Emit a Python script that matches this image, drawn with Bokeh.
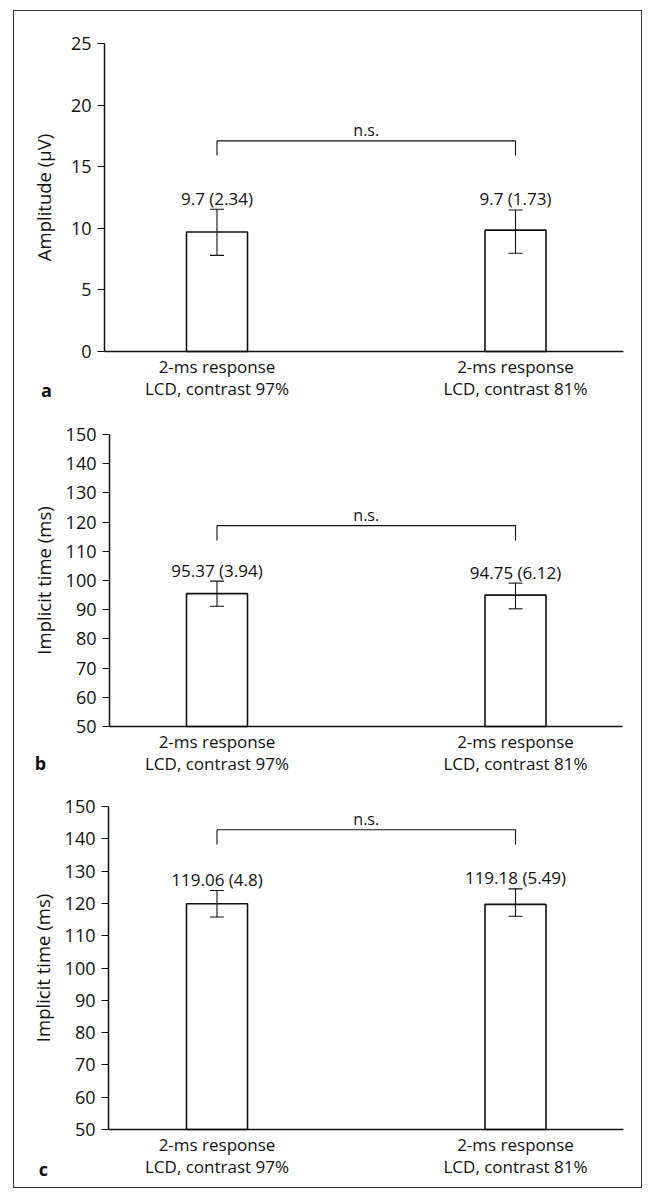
from bokeh.plotting import figure
from bokeh.models import Range1d, FixedTicker, Whisker, TeeHead, ColumnDataSource
from bokeh.layouts import column
from bokeh.embed import file_html
from bokeh.resources import INLINE
from bokeh.core.properties import value

# ---------------- data ----------------
categories = ["2-ms response\nLCD, contrast 97%", "2-ms response\nLCD, contrast 81%"]

amp_mean = [9.7, 9.85]
amp_upper = [11.55, 11.49]
amp_lower = [7.8, 7.97]
amp_text = ["9.7 (2.34)", "9.7 (1.73)"]

itb_mean = [95.5, 95.0]
itb_upper = [99.8, 99.1]
itb_lower = [91.2, 90.3]
itb_text = ["95.37 (3.94)", "94.75 (6.12)"]

itc_mean = [119.9, 119.7]
itc_upper = [124.0, 124.5]
itc_lower = [115.8, 116.0]
itc_text = ["119.06 (4.8)", "119.18 (5.49)"]

amp_ticks = [0, 5, 10, 15, 20, 25]
it_ticks = [50, 60, 70, 80, 90, 100, 110, 120, 130, 140, 150]

bracket_y = [17.1, 118.8, 142.8]
bracket_leg = [15.9, 113.7, 138.2]
sig_text = "n.s."
letters = ["a", "b", "c"]
ylabels = ["Amplitude (µV)", "Implicit time (ms)", "Implicit time (ms)"]

FONT = "Open Sans"
INK = "#111111"

# layout geometry (page pixels; Bokeh page has no body margin)
BOX_X, BOX_Y = 13, 10          # outer border position
CANVAS_X0, CANVAS_X1 = 14, 641
PPU = 298.5                    # px per category step
CENTER1 = 216.5                # page x of first bar centre
BAR_W = 61 / PPU


def make_panel(i, means, uppers, lowers, texts, yr, ticks,
               ax_l, ax_r, ft, fb, ct, cb, letter_xy, label_standoff):
    W = CANVAS_X1 - CANVAS_X0
    H = cb - ct
    ppy = (fb - ft) / (yr[1] - yr[0])

    def px2x(px):
        return (px - CENTER1) / PPU

    def py2y(py):
        return yr[0] + (fb - py) / ppy

    p = figure(width=W, height=H, output_backend="svg", toolbar_location=None,
               x_range=Range1d(px2x(CANVAS_X0), px2x(CANVAS_X1)),
               y_range=Range1d(py2y(cb), py2y(ct)), min_border=0)
    p.outline_line_color = None
    p.xgrid.visible = False
    p.ygrid.visible = False
    p.background_fill_color = "white"
    p.border_fill_color = "white"

    pos = list(range(len(categories)))
    src = ColumnDataSource(dict(x=pos, top=means, upper=uppers, lower=lowers, text=texts))

    p.vbar(x="x", top="top", bottom=yr[0], width=BAR_W, source=src,
           fill_color="white", line_color=INK, line_width=1.6)

    w = Whisker(source=src, base="x", upper="upper", lower="lower",
                line_color=INK, line_width=1.1, level="overlay",
                upper_head=TeeHead(size=14, line_color=INK, line_width=1.1),
                lower_head=TeeHead(size=14, line_color=INK, line_width=1.1))
    p.add_layout(w)

    p.text(x="x", y="upper", text="text", source=src, text_align="center",
           text_baseline="alphabetic", y_offset=-11, text_color=INK,
           text_font=value(FONT), text_font_size="17px")

    # significance bracket
    by, bl = bracket_y[i], bracket_leg[i]
    p.line(x=[pos[0], pos[0], pos[1], pos[1]], y=[bl, by, by, bl],
           line_color=INK, line_width=1.1)
    p.text(x=[(pos[0] + pos[1]) / 2], y=[by], text=[sig_text], text_align="center",
           text_baseline="alphabetic", y_offset=-11, text_color=INK,
           text_font=value(FONT), text_font_size="16px")

    # axes, pinned at fixed data locations
    xa = p.xaxis[0]
    xa.fixed_location = yr[0]
    xa.bounds = (px2x(ax_l), px2x(ax_r))
    xa.ticker = FixedTicker(ticks=pos)
    xa.major_label_overrides = {k: c for k, c in zip(pos, categories)}
    xa.major_tick_out = 0
    xa.major_tick_in = 0
    xa.minor_tick_out = 0
    xa.minor_tick_in = 0
    xa.major_label_standoff = 3
    xa.major_label_text_font = FONT
    xa.major_label_text_font_size = "17px"
    xa.major_label_text_color = INK
    xa.major_label_text_line_height = 0.98
    xa.axis_line_color = INK
    xa.axis_line_width = 1.5

    ya = p.yaxis[0]
    ya.fixed_location = px2x(ax_l)
    ya.bounds = (yr[0], yr[1])
    ya.ticker = FixedTicker(ticks=ticks)
    ya.major_tick_out = 7
    ya.major_tick_in = 0
    ya.minor_tick_out = 0
    ya.minor_tick_in = 0
    ya.major_tick_line_color = INK
    ya.major_tick_line_width = 1.2
    ya.major_label_standoff = 6
    ya.major_label_text_font = FONT
    ya.major_label_text_font_size = "18px"
    ya.major_label_text_color = INK
    ya.axis_line_color = INK
    ya.axis_line_width = 1.5
    ya.axis_label = ylabels[i]
    ya.axis_label_text_font = FONT
    ya.axis_label_text_font_size = "18.5px"
    ya.axis_label_text_font_style = "normal"
    ya.axis_label_text_color = INK
    ya.axis_label_standoff = label_standoff

    # panel letter
    p.text(x=[px2x(letter_xy[0])], y=[py2y(letter_xy[1])], text=[letters[i]],
           text_align="center", text_baseline="middle", text_color=INK,
           text_font=value(FONT), text_font_size="18px", text_font_style="bold")
    return p


pa = make_panel(0, amp_mean, amp_upper, amp_lower, amp_text, (0, 25), amp_ticks,
                104, 623, 43, 351, 11, 400, (46, 389), 12)
pb = make_panel(1, itb_mean, itb_upper, itb_lower, itb_text, (50, 150), it_ticks,
                109, 622, 434, 726, 400, 775, (40, 762), 7)
pc = make_panel(2, itc_mean, itc_upper, itc_lower, itc_text, (50, 150), it_ticks,
                108, 623, 806, 1129, 775, 1187, (43, 1168), 7)

layout = column(pa, pb, pc, spacing=0, margin=(BOX_Y, 0, 0, BOX_X),
                styles={"border": "1px solid #333", "background-color": "white"})

open("out.html", "w").write(file_html(layout, INLINE))
